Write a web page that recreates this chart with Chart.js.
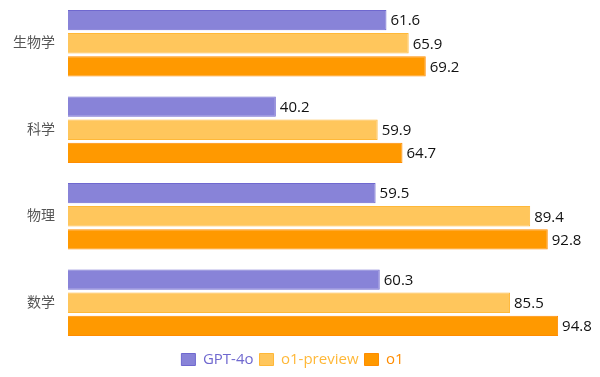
<!DOCTYPE html>
<html>
<head>
<meta charset="utf-8">
<script src="https://cdn.jsdelivr.net/npm/chart.js@4/dist/chart.umd.min.js"></script>
<style>
  html, body { margin: 0; padding: 0; background: #fff; }
  #wrap { width: 600px; height: 377px; }
</style>
</head>
<body>
<div id="wrap"><canvas id="benchChart"></canvas></div>
<script>
// categories and scores
const categories = ['生物学', '科学', '物理', '数学'];
const gpt4o = [61.6, 40.2, 59.5, 60.3];
const o1Preview = [65.9, 59.9, 89.4, 85.5];
const o1 = [69.2, 64.7, 92.8, 94.8];

const fontFamily = "'Open Sans', 'Noto Sans CJK SC', sans-serif";

// draws the value at the end of each bar
const valueLabels = {
    id: 'valueLabels',
    afterDatasetsDraw(chart) {
        const ctx = chart.ctx;
        ctx.save();
        ctx.font = '15px ' + fontFamily;
        ctx.fillStyle = '#111';
        ctx.textAlign = 'left';
        ctx.textBaseline = 'middle';
        chart.data.datasets.forEach((ds, i) => {
            chart.getDatasetMeta(i).data.forEach((bar, j) => {
                ctx.fillText(ds.data[j].toFixed(1), bar.x + 4, bar.y + 1);
            });
        });
        ctx.restore();
    }
};

new Chart(document.getElementById('benchChart'), {
    type: 'bar',
    data: {
        labels: categories,
        datasets: [
            { label: 'GPT-4o', data: gpt4o, backgroundColor: '#8883d8', borderColor: '#6f68cf', borderWidth: 1 },
            { label: 'o1-preview', data: o1Preview, backgroundColor: '#ffc65c', borderColor: '#ffb838', borderWidth: 1 },
            { label: 'o1', data: o1, backgroundColor: '#ff9900', borderColor: '#ff8c00', borderWidth: 1 }
        ]
    },
    options: {
        indexAxis: 'y',
        responsive: true,
        maintainAspectRatio: false,
        animation: false,
        categoryPercentage: 0.8,
        barPercentage: 0.88,
        layout: { padding: { top: -2, right: 15, left: 0, bottom: 0 } },
        scales: {
            x: { display: false, min: 0, max: 100 },
            y: {
                grid: { display: false, drawTicks: false },
                border: { display: false },
                ticks: { color: '#555', padding: 13, font: { family: fontFamily, size: 14 } },
                afterFit(scale) {
                    scale.width = 68;
                    scale.paddingTop = 0;
                    scale.paddingBottom = 0;
                }
            }
        },
        plugins: {
            legend: {
                position: 'bottom',
                labels: {
                    boxWidth: 14,
                    boxHeight: 12,
                    padding: 6,
                    font: { family: fontFamily, size: 15 },
                    generateLabels(chart) {
                        return chart.data.datasets.map((ds, i) => ({
                            text: ds.label,
                            fillStyle: ds.backgroundColor,
                            strokeStyle: ds.borderColor,
                            lineWidth: 1,
                            fontColor: ds.backgroundColor === '#ffc65c' ? '#ffb838' : ds.borderColor,
                            datasetIndex: i
                        }));
                    }
                }
            },
            tooltip: { enabled: false }
        }
    },
    plugins: [valueLabels]
});
</script>
</body>
</html>
